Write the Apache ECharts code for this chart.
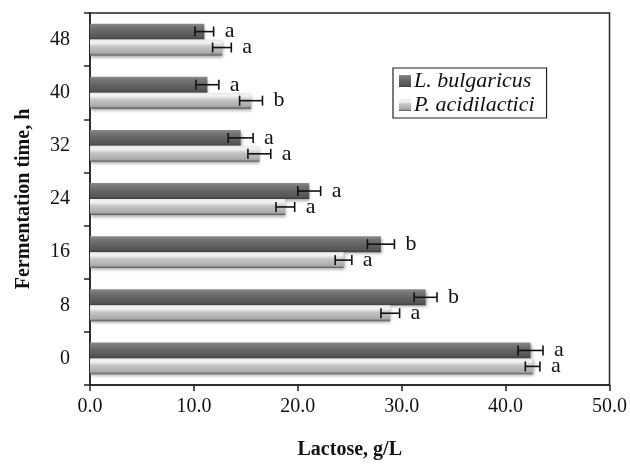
<!DOCTYPE html>
<html><head><meta charset="utf-8">
<script src="https://cdn.jsdelivr.net/npm/echarts@6/dist/echarts.min.js"></script>
<style>html,body{margin:0;padding:0;background:#fff}#c{width:630px;height:465px}</style>
</head><body><div id="c"></div>
<script>
const categories = ['0', '8', '16', '24', '32', '40', '48'];
const seriesNames = ['L. bulgaricus', 'P. acidilactici'];
const bulgaricus = [42.4, 32.3, 28.0, 21.1, 14.5, 11.3, 11.0];
const bulgaricusErr = [1.2, 1.1, 1.3, 1.1, 1.2, 1.1, 0.9];
const bulgaricusLetters = ['a', 'b', 'b', 'a', 'a', 'a', 'a'];
const acidilactici = [42.6, 28.9, 24.4, 18.8, 16.3, 15.5, 12.7];
const acidilacticiErr = [0.7, 0.9, 0.8, 0.9, 1.1, 1.1, 0.9];
const acidilacticiLetters = ['a', 'a', 'a', 'a', 'a', 'b', 'a'];
const xTicks = [0, 10, 20, 30, 40, 50];

const FONT = '"Liberation Serif", "Times New Roman", serif';
const chart = echarts.init(document.getElementById('c'));

const darkGrad = new echarts.graphic.LinearGradient(0, 0, 0, 1, [
  {offset: 0, color: '#8c8c8c'}, {offset: 0.15, color: '#7a7a7a'},
  {offset: 0.45, color: '#666666'}, {offset: 0.85, color: '#555555'}, {offset: 1, color: '#3c3c3c'}]);
const lightGrad = new echarts.graphic.LinearGradient(0, 0, 0, 1, [
  {offset: 0, color: '#e8e8e8'}, {offset: 0.2, color: '#f4f4f4'},
  {offset: 0.45, color: '#c4c4c4'}, {offset: 0.85, color: '#aaaaaa'}, {offset: 1, color: '#555555'}]);

function errSeries(vals, errs, letters, sign) {
  return {
    type: 'custom',
    z: 10,
    silent: true,
    data: vals.map((v, i) => [v, i, errs[i]]),
    renderItem: function (params, api) {
      const v = api.value(0), idx = api.value(1), e = api.value(2);
      const letter = letters[params.dataIndex];
      const band = api.size([0, 1])[1];
      const c = api.coord([v, idx]);
      const y = c[1] + sign * band * 0.15;
      const lo = api.coord([v - e, idx])[0];
      const hi = api.coord([v + e, idx])[0];
      const h = 5;
      const st = {stroke: '#111', lineWidth: 1.6};
      return {
        type: 'group',
        children: [
          {type: 'line', shape: {x1: lo, y1: y, x2: hi, y2: y}, style: st},
          {type: 'line', shape: {x1: lo, y1: y - h, x2: lo, y2: y + h}, style: st},
          {type: 'line', shape: {x1: hi, y1: y - h, x2: hi, y2: y + h}, style: st},
          {type: 'text', x: hi + 11, y: y, style: {text: letter, fontFamily: FONT, fontSize: 22, fill: '#111', align: 'left', verticalAlign: 'middle'}}
        ]
      };
    }
  };
}

chart.setOption({
  animation: false,
  grid: {left: 90, right: 20, top: 13, bottom: 79, show: true, borderColor: '#222', borderWidth: 1.5, backgroundColor: 'transparent'},
  legend: {
    data: seriesNames,
    orient: 'vertical',
    left: 393, top: 68,
    borderColor: '#222', borderWidth: 1.2,
    padding: [2, 12, 2, 6],
    itemGap: 2,
    itemWidth: 12, itemHeight: 12,
    icon: 'rect',
    textStyle: {fontFamily: FONT, fontStyle: 'italic', fontSize: 22, color: '#111', padding: [0, 0, 0, -2]}
  },
  xAxis: {
    type: 'value', min: 0, max: 50, interval: 10,
    name: 'Lactose, g/L', nameLocation: 'middle', nameGap: 55,
    nameTextStyle: {fontFamily: FONT, fontWeight: 'bold', fontSize: 20, color: '#111'},
    axisLine: {show: true, lineStyle: {color: '#222', width: 1.5}},
    axisTick: {show: true, length: 6, lineStyle: {color: '#222', width: 1.5}},
    axisLabel: {fontFamily: FONT, fontSize: 20, color: '#111', margin: 12, formatter: v => xTicks.includes(v) ? v.toFixed(1) : ''},
    splitLine: {show: false}
  },
  yAxis: {
    type: 'category', data: categories,
    name: 'Fermentation time, h', nameLocation: 'middle', nameGap: 56, nameRotate: 90,
    nameTextStyle: {fontFamily: FONT, fontWeight: 'bold', fontSize: 20, color: '#111'},
    axisLine: {show: true, lineStyle: {color: '#222', width: 1.5}},
    axisTick: {show: true, length: 6, lineStyle: {color: '#222', width: 1.5}},
    axisLabel: {fontFamily: FONT, fontSize: 20, color: '#111', margin: 20}
  },
  series: [
    {name: seriesNames[0], type: 'bar', data: bulgaricus, barCategoryGap: '40%', barGap: '0%',
     itemStyle: {color: darkGrad, shadowBlur: 3, shadowColor: 'rgba(0,0,0,0.35)', shadowOffsetX: 1, shadowOffsetY: 2}},
    {name: seriesNames[1], type: 'bar', data: acidilactici, barCategoryGap: '40%', barGap: '0%',
     itemStyle: {color: lightGrad, shadowBlur: 3, shadowColor: 'rgba(0,0,0,0.35)', shadowOffsetX: 1, shadowOffsetY: 2}},
    errSeries(bulgaricus, bulgaricusErr, bulgaricusLetters, -1),
    errSeries(acidilactici, acidilacticiErr, acidilacticiLetters, 1)
  ]
});
</script></body></html>
